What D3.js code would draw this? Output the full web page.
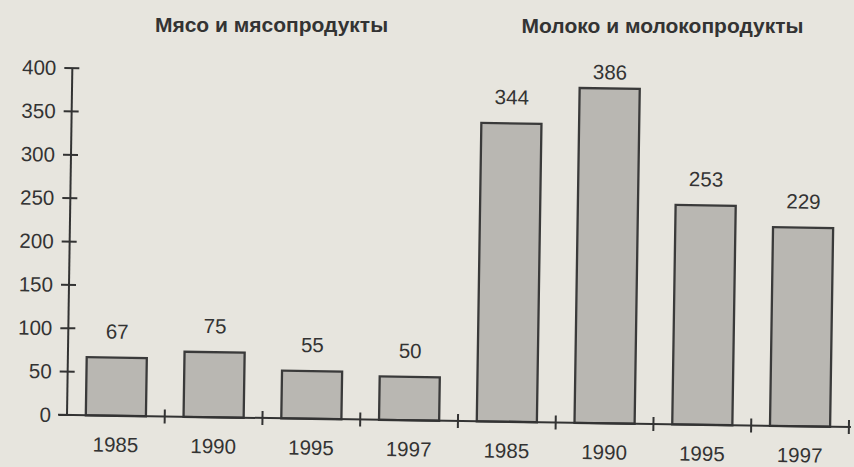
<!DOCTYPE html>
<html>
<head>
<meta charset="utf-8">
<script src="https://cdn.jsdelivr.net/npm/d3@7"></script>
<style>
  html, body { margin: 0; padding: 0; background: #e7e5de; }
  svg { display: block; }
  text { font-family: "Liberation Sans", Arial, sans-serif; fill: #333; }
</style>
</head>
<body>
<svg id="chart" width="854" height="467"></svg>
<script>
// ---- data ----
const groups = ["Мясо и мясопродукты", "Молоко и молокопродукты"];
const years = ["1985", "1990", "1995", "1997"];
const meatValues = [67, 75, 55, 50];
const milkValues = [344, 386, 253, 229];
const yTickValues = [0, 50, 100, 150, 200, 250, 300, 350, 400];

// build rows
const rows = [];
[meatValues, milkValues].forEach((vals, gi) => {
  vals.forEach((v, i) => rows.push({ key: gi + "-" + years[i], group: gi, year: years[i], value: v }));
});

const svg = d3.select("#chart");
svg.append("rect").attr("width", 854).attr("height", 467).attr("fill", "#e7e5de");

const W = 782, H = 347;
const x = d3.scaleBand().domain(rows.map(d => d.key)).range([0, W]).padding(0);
const y = d3.scaleLinear().domain([0, 400]).range([0, -H]);
const barW = x.bandwidth() * 0.615;

const g = svg.append("g").attr("transform", "translate(67,415) rotate(0.88)");

// bars
g.selectAll("rect.bar").data(rows).enter().append("rect")
  .attr("class", "bar")
  .attr("x", d => x(d.key) + (x.bandwidth() - barW) / 2)
  .attr("y", d => y(d.value))
  .attr("width", barW)
  .attr("height", d => -y(d.value))
  .attr("fill", "#b9b7b2")
  .attr("stroke", "#3a3a3a")
  .attr("stroke-width", 2.3);

// value labels
g.selectAll("text.val").data(rows).enter().append("text")
  .attr("class", "val")
  .attr("x", d => x(d.key) + x.bandwidth() / 2)
  .attr("y", d => Math.max(y(d.value) - 19, y(400) + 3))
  .attr("text-anchor", "middle")
  .attr("font-size", 20.5)
  .text(d => d.value);

// y axis
const yAxis = d3.axisLeft(y).tickValues(yTickValues).tickSize(0).tickPadding(16);
const ya = g.append("g").call(yAxis);
ya.select(".domain").remove();
ya.selectAll("text").attr("font-size", 20.5).attr("fill", "#333")
  .attr("font-family", "Liberation Sans, Arial, sans-serif");
g.append("line").attr("x1", 0).attr("x2", 0).attr("y1", 0).attr("y2", y(400))
  .attr("stroke", "#333").attr("stroke-width", 2);
g.selectAll("line.ytick").data(yTickValues).enter().append("line")
  .attr("class", "ytick")
  .attr("x1", -8).attr("x2", 7)
  .attr("y1", d => y(d)).attr("y2", d => y(d))
  .attr("stroke", "#333").attr("stroke-width", 2);

// x axis
g.append("line").attr("x1", -9).attr("x2", W + 2).attr("y1", 0).attr("y2", 0)
  .attr("stroke", "#333").attr("stroke-width", 2);
g.selectAll("line.xtick").data(rows).enter().append("line")
  .attr("class", "xtick")
  .attr("x1", d => x(d.key) + x.bandwidth()).attr("x2", d => x(d.key) + x.bandwidth())
  .attr("y1", -7).attr("y2", 7)
  .attr("stroke", "#333").attr("stroke-width", 2);
g.selectAll("text.year").data(rows).enter().append("text")
  .attr("class", "year")
  .attr("x", d => x(d.key) + x.bandwidth() / 2)
  .attr("y", 36)
  .attr("text-anchor", "middle")
  .attr("font-size", 20.5)
  .text(d => d.year);

// group titles
svg.selectAll("text.title").data(groups).enter().append("text")
  .attr("class", "title")
  .attr("x", (d, i) => {
    const ks = rows.filter(r => r.group === i).map(r => r.key);
    return 67 + (x(ks[0]) + x(ks[ks.length - 1]) + x.bandwidth()) / 2 + 9;
  })
  .attr("y", (d, i) => 32 + i)
  .attr("text-anchor", "middle")
  .attr("font-size", 21)
  .attr("font-weight", "bold")
  .text(d => d);
</script>
</body>
</html>
